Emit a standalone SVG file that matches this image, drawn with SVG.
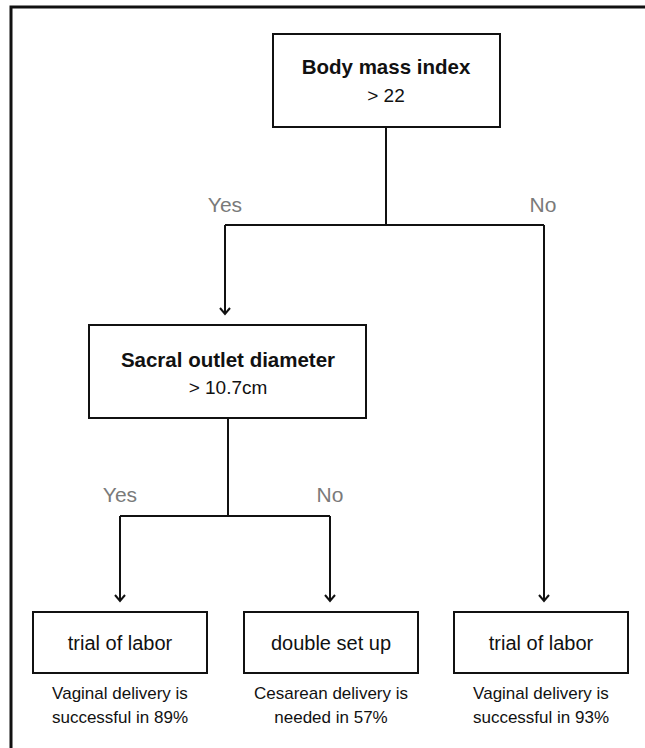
<svg xmlns="http://www.w3.org/2000/svg" width="645" height="748" viewBox="0 0 645 748">
<defs>
<style>
.box{fill:#fff;stroke:#111;stroke-width:2}
.ln{fill:none;stroke:#111;stroke-width:2}
.t{font-family:"Liberation Sans",Arial,sans-serif;fill:#111;text-anchor:middle}
.b{font-weight:bold;font-size:20.5px}
.r{font-size:19px}
.m{font-size:20px}
.s{font-size:17px}
.lab{font-family:"Liberation Sans",Arial,sans-serif;fill:#7a7a7a;font-size:21px;text-anchor:middle}
</style>
<marker id="ah" markerWidth="12" markerHeight="12" refX="10" refY="6" orient="auto" markerUnits="userSpaceOnUse" viewBox="0 0 12 12">
<path d="M4,1 L10,6 L4,11" fill="none" stroke="#111" stroke-width="2"/>
</marker>
</defs>
<rect width="645" height="748" fill="#fff"/>
<path d="M11,748 V7 H645" fill="none" stroke="#111" stroke-width="3"/>
<g id="connectors">
<path class="ln" d="M386,127 V225"/>
<path class="ln" d="M225,225 H544"/>
<path class="ln" d="M225,225 V314" marker-end="url(#ah)"/>
<path class="ln" d="M544,225 V601" marker-end="url(#ah)"/>
<path class="ln" d="M228,418 V516"/>
<path class="ln" d="M120,516 H330"/>
<path class="ln" d="M120,516 V601" marker-end="url(#ah)"/>
<path class="ln" d="M330,516 V601" marker-end="url(#ah)"/>
<text class="lab" x="225" y="212">Yes</text>
<text class="lab" x="543" y="212">No</text>
<text class="lab" x="120" y="502">Yes</text>
<text class="lab" x="330" y="502">No</text>
</g>
<g id="bmi">
<rect class="box" x="273" y="34" width="227" height="93"/>
<text class="t b" x="386" y="74">Body mass index</text>
<text class="t r" x="386" y="102">&gt; 22</text>
</g>
<g id="sacral">
<rect class="box" x="89" y="325" width="277" height="93"/>
<text class="t b" x="228" y="367">Sacral outlet diameter</text>
<text class="t r" x="228" y="394">&gt; 10.7cm</text>
</g>
<g id="trial1">
<rect class="box" x="33" y="612" width="174" height="61"/>
<text class="t m" x="120" y="650">trial of labor</text>
<text class="t s" x="120" y="699">Vaginal delivery is</text>
<text class="t s" x="120" y="723">successful in 89%</text>
</g>
<g id="double">
<rect class="box" x="244" y="612" width="174" height="61"/>
<text class="t m" x="331" y="650">double set up</text>
<text class="t s" x="331" y="699">Cesarean delivery is</text>
<text class="t s" x="331" y="723">needed in 57%</text>
</g>
<g id="trial2">
<rect class="box" x="454" y="612" width="174" height="61"/>
<text class="t m" x="541" y="650">trial of labor</text>
<text class="t s" x="541" y="699">Vaginal delivery is</text>
<text class="t s" x="541" y="723">successful in 93%</text>
</g>
</svg>
